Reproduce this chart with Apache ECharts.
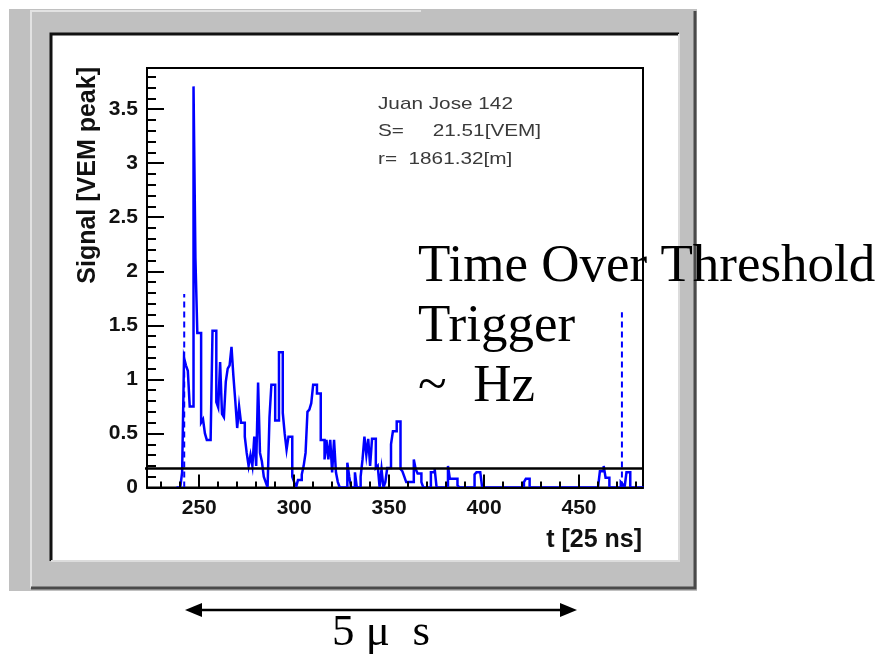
<!DOCTYPE html>
<html><head><meta charset="utf-8">
<script src="https://cdn.jsdelivr.net/npm/echarts@6/dist/echarts.min.js"></script>
<style>html,body{margin:0;padding:0;background:#fff}#c{width:880px;height:657px}</style>
</head><body><div id="c"></div>
<script>
// ---- data ----
const binStart = 238;            // left edge of first bin [t, 25 ns units], bins are 1 wide
const signal = [
  0, 0, 0, 0.14, 1.2, 1.13, 1.08, 0.75, 0.75, 3.71,
  2.12, 1.43, 1.43, 0.6, 0.63, 0.5, 0.44, 0.44, 0.44, 1.45,
  1.45, 0.79, 0.74, 1.16, 0.68, 0.65, 0.98, 1.1, 1.13, 1.3,
  1.03, 0.8, 0.55, 0.75, 0.6, 0.6, 0.47, 0.32, 0.2, 0.3,
  0.2, 0.47, 0.2, 0.97, 0.32, 0.24, 0.1, 0.05, 0, 0.65,
  0.95, 0.95, 0.62, 0.62, 1.25, 1.25, 0.69, 0.5, 0.35, 0.47,
  0.47, 0.1, 0.05, 0, 0.07, 0.07, 0.12, 0.2, 0.32, 0.7,
  0.72, 0.78, 0.95, 0.95, 0.87, 0.87, 0.44, 0.44, 0.26, 0.44,
  0.26, 0.44, 0.14, 0.44, 0.14, 0.05, 0, 0, 0, 0,
  0.23, 0.1, 0, 0, 0.14, 0, 0, 0.1, 0.26, 0.47,
  0.3, 0.45, 0.2, 0.45, 0.45, 0.18, 0.2, 0, 0.17, 0,
  0.05, 0.18, 0.18, 0.4, 0.52, 0.52, 0.61, 0.61, 0.17, 0.15,
  0.1, 0.05, 0.05, 0.05, 0.05, 0.26, 0.17, 0.13, 0.13, 0.05,
  0, 0, 0, 0, 0.14, 0.14, 0.17, 0, 0, 0,
  0, 0, 0, 0.2, 0.08, 0.08, 0.08, 0.08, 0.02, 0,
  0, 0, 0, 0, 0, 0, 0, 0.12, 0.14, 0.14,
  0.14, 0, 0, 0, 0, 0, 0, 0, 0, 0,
  0, 0, 0, 0, 0, 0, 0, 0, 0, 0,
  0, 0, 0, 0.05, 0.08, 0.08, 0, 0, 0, 0,
  0, 0, 0, 0, 0, 0, 0, 0, 0, 0,
  0, 0, 0, 0, 0, 0, 0, 0, 0, 0,
  0, 0, 0, 0, 0, 0, 0, 0, 0, 0,
  0, 0, 0, 0.15, 0.15, 0.2, 0.09, 0.09, 0, 0,
  0, 0, 0, 0, 0.05, 0.03, 0, 0.14, 0.14, 0,
  0, 0, 0, 0, 0, 0
];
const xRange = [222.5, 483.7];
const yRange = [0, 3.88];
const xTickLabels = [250, 300, 350, 400, 450];
const xMinorTicks = [230, 240, 260, 270, 280, 290, 310, 320, 330, 340, 360, 370, 380, 390, 410, 420, 430, 440, 460, 470, 480];
const yTickLabels = [0, 0.5, 1, 1.5, 2, 2.5, 3, 3.5];
const yMinorTicks = [0.1, 0.2, 0.3, 0.4, 0.6, 0.7, 0.8, 0.9, 1.1, 1.2, 1.3, 1.4, 1.6, 1.7, 1.8, 1.9,
  2.1, 2.2, 2.3, 2.4, 2.6, 2.7, 2.8, 2.9, 3.1, 3.2, 3.3, 3.4, 3.6, 3.7, 3.8];
const threshold = 0.175;
const thresholdSpan = [214.5, 483.7];
const startMarker = [242.1, 1.79];   // [t, top of dashed line]
const stopMarker = [472.6, 1.62];
const statsLines = ['Juan Jose 142', 'S=     21.51[VEM]', 'r=  1861.32[m]'];
const noteLines = ['Time Over Threshold', 'Trigger', '~  Hz'];
const spanLabel = '5 μ  s';
const xTitle = 't [25 ns]';
const yTitle = 'Signal [VEM peak]';

// ---- build ----
const histData = signal.map((v, i) => [binStart + i, v]);
histData.push([binStart + signal.length, 0]);

const SANS = "'Liberation Sans', Arial, Helvetica, sans-serif";
const SERIF = "'Liberation Serif', 'Times New Roman', serif";
const INK = '#111';

const chart = echarts.init(document.getElementById('c'), null, {renderer: 'canvas'});

const graphics = [
  // window frame
  {type: 'rect', z: -30, shape: {x: 9, y: 9, width: 688, height: 582}, style: {fill: '#c0c0c0'}},
  {type: 'polyline', z: -29, shape: {points: [[31, 588], [31, 11], [421, 11]]}, style: {stroke: '#e2e2e2', lineWidth: 2, fill: null}},
  {type: 'polyline', z: -29, shape: {points: [[31, 588], [695, 588], [695, 11]]}, style: {stroke: '#4a4a4a', lineWidth: 3, fill: null}},
  {type: 'rect', z: -28, shape: {x: 50, y: 33, width: 629, height: 528}, style: {fill: '#ffffff'}},
  {type: 'polyline', z: -27, shape: {points: [[51, 561], [51, 34], [679, 34]]}, style: {stroke: '#111', lineWidth: 3, fill: null}},
  {type: 'polyline', z: -27, shape: {points: [[51, 561], [679, 561], [679, 34]]}, style: {stroke: '#dcdcdc', lineWidth: 2, fill: null}},
  // arrow
  {type: 'line', z: 50, shape: {x1: 195, y1: 610, x2: 567, y2: 610}, style: {stroke: '#000', lineWidth: 2.5}},
  {type: 'polygon', z: 50, shape: {points: [[185, 610], [202, 603], [202, 617]]}, style: {fill: '#000'}},
  {type: 'polygon', z: 50, shape: {points: [[577, 610], [560, 603], [560, 617]]}, style: {fill: '#000'}},
  {type: 'text', z: 50, x: 332, y: 633, style: {text: spanLabel, font: '45px ' + SERIF, fill: '#000', align: 'left', verticalAlign: 'middle'}}
];
statsLines.forEach((s, i) => {
  graphics.push({type: 'text', z: 40, x: 378, y: [104, 131, 159][i], scaleX: 1.22,
    style: {text: s, font: '17px ' + SANS, fill: '#3a3a3a', align: 'left', verticalAlign: 'middle'}});
});
noteLines.forEach((s, i) => {
  graphics.push({type: 'text', z: 60, x: 418, y: [267, 327, 387][i],
    style: {text: s, font: '53px ' + SERIF, fill: '#000', align: 'left', verticalAlign: 'middle'}});
});

const option = {
  backgroundColor: '#ffffff',
  animation: false,
  grid: {left: 147, right: 237, top: 68, bottom: 169.5, show: true, borderColor: '#000', borderWidth: 2,
         backgroundColor: 'transparent', containLabel: false, outerBoundsMode: 'none'},
  xAxis: [
    {type: 'value', min: xRange[0], max: xRange[1], position: 'bottom', z: 10,
     axisLine: {show: true, lineStyle: {color: '#000', width: 2}},
     axisTick: {show: true, inside: true, length: 13, customValues: xTickLabels, lineStyle: {color: '#000', width: 2}},
     axisLabel: {show: true, customValues: xTickLabels, margin: 10, color: INK, fontSize: 21, fontWeight: 'bold', fontFamily: SANS},
     splitLine: {show: false},
     name: xTitle, nameLocation: 'end', nameGap: -1,
     nameTextStyle: {color: INK, fontSize: 25, fontWeight: 'bold', fontFamily: SANS, align: 'right', verticalAlign: 'top', padding: [40, 0, 0, 0]}},
    {type: 'value', min: xRange[0], max: xRange[1], position: 'bottom', z: 10,
     axisLine: {show: false},
     axisTick: {show: true, inside: true, length: 6, customValues: xMinorTicks, lineStyle: {color: '#000', width: 2}},
     axisLabel: {show: false}, splitLine: {show: false}}
  ],
  yAxis: [
    {type: 'value', min: yRange[0], max: yRange[1], position: 'left', z: 10,
     axisLine: {show: true, lineStyle: {color: '#000', width: 2}},
     axisTick: {show: true, inside: true, length: 17, customValues: yTickLabels, lineStyle: {color: '#000', width: 2}},
     axisLabel: {show: true, customValues: yTickLabels, margin: 9, color: INK, fontSize: 21, fontWeight: 'bold', fontFamily: SANS},
     splitLine: {show: false},
     name: yTitle, nameLocation: 'end', nameGap: 1, nameRotate: 90,
     nameTextStyle: {color: INK, fontSize: 25, fontWeight: 'bold', fontFamily: SANS, align: 'right', verticalAlign: 'bottom', padding: [0, 0, 46, 0]}},
    {type: 'value', min: yRange[0], max: yRange[1], position: 'left', z: 10,
     axisLine: {show: false},
     axisTick: {show: true, inside: true, length: 9, customValues: yMinorTicks, lineStyle: {color: '#000', width: 2}},
     axisLabel: {show: false}, splitLine: {show: false}}
  ],
  series: [
    {name: 'Signal', type: 'line', xAxisIndex: 0, yAxisIndex: 0, step: 'end', showSymbol: false, symbol: 'none',
     data: histData, lineStyle: {color: '#0000ff', width: 2.5, join: 'miter'}, z: 3},
    {name: 'Threshold', type: 'line', xAxisIndex: 0, yAxisIndex: 0, clip: false, showSymbol: false, symbol: 'none',
     data: [[thresholdSpan[0], threshold], [thresholdSpan[1], threshold]], lineStyle: {color: '#000', width: 2.5}, z: 4},
    {name: 'Start', type: 'line', xAxisIndex: 0, yAxisIndex: 0, showSymbol: false, symbol: 'none',
     data: [[startMarker[0], 0], [startMarker[0], startMarker[1]]], lineStyle: {color: '#0000ff', width: 2, type: [6, 4]}, z: 3},
    {name: 'Stop', type: 'line', xAxisIndex: 0, yAxisIndex: 0, showSymbol: false, symbol: 'none',
     data: [[stopMarker[0], 0], [stopMarker[0], stopMarker[1]]], lineStyle: {color: '#0000ff', width: 2, type: [6, 4]}, z: 3}
  ],
  graphic: {elements: graphics}
};
chart.setOption(option);
</script>
</body></html>
